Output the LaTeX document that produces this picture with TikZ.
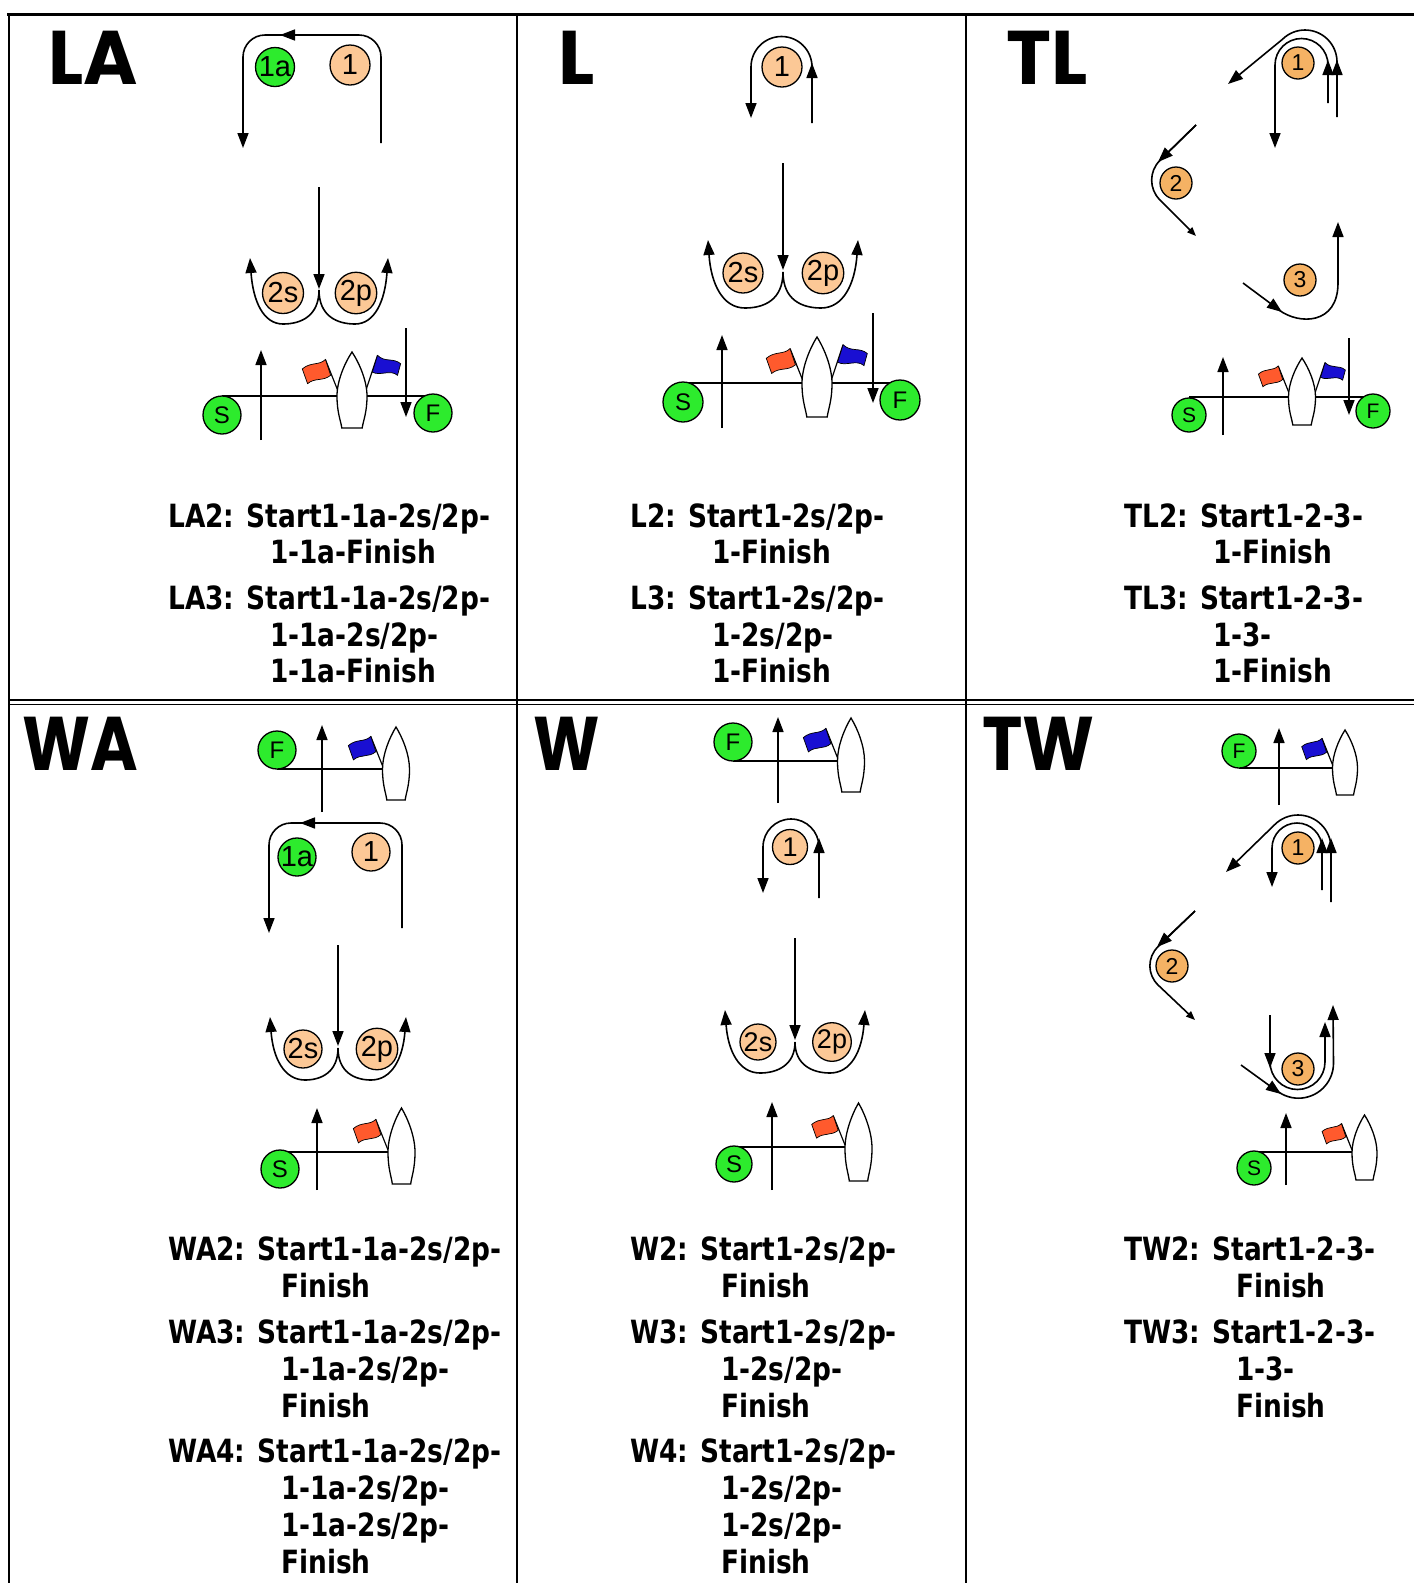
\documentclass[tikz,border=0pt]{standalone}
\usepackage{fontspec}
\setmainfont{Liberation Sans}
\newfontfamily\txtf{DejaVu Sans}[FakeStretch=0.825]
\newfontfamily\bigf{Poppins}
\newfontfamily\bigla{Poppins}[FakeStretch=0.97]
\newfontfamily\bigwa{Poppins}[FakeStretch=0.85]
\newfontfamily\bigw{Poppins}[FakeStretch=0.83]
\newfontfamily\bigtw{Poppins}[FakeStretch=0.9]
\newfontfamily\mkf{Liberation Sans}
\usetikzlibrary{arrows.meta}
\definecolor{greenc}{RGB}{45,235,45}
\definecolor{peachc}{RGB}{252,200,150}
\definecolor{orangec}{RGB}{245,178,100}
\definecolor{redc}{RGB}{255,90,45}
\definecolor{bluec}{RGB}{25,15,210}
\tikzset{
 ln/.style={line width=1.6pt},
 arr/.style={ln,-{Triangle[length=15pt,width=11pt]}},
 sarr/.style={ln,-{Triangle[length=9pt,width=7pt]}},
 mkcirc/.style={circle,draw,line width=1.3pt,inner sep=0pt},
 pch/.style={mkcirc,fill=peachc,minimum size=40pt,font=\mkf\fontsize{29}{29}\selectfont},
 grn/.style={mkcirc,fill=greenc,minimum size=39pt,font=\mkf\fontsize{29}{29}\selectfont},
 sf/.style={mkcirc,fill=greenc,minimum size=38pt,font=\mkf\fontsize{24}{24}\selectfont},
 ssf/.style={mkcirc,fill=greenc,minimum size=34pt,font=\mkf\fontsize{21}{21}\selectfont},
 org/.style={mkcirc,fill=orangec,minimum size=32pt,font=\mkf\fontsize{23}{23}\selectfont},
 txt/.style={anchor=base west,inner sep=0pt,font=\txtf\bfseries\fontsize{32}{32}\selectfont},
 big/.style={anchor=base west,inner sep=0pt,font=\bfseries\fontsize{76}{76}\selectfont},
 boatst/.style={draw,fill=white,line width=1.3pt},
 tbl/.style={line width=2pt},
}
% boat: cx, top, halfwidth, height
\newcommand\drawboat[4]{%
 \draw[boatst] (#1,#2) .. controls ({#1-0.5*#3},{#2+0.15*#4}) and ({#1-#3},{#2+0.38*#4}) .. ({#1-#3},{#2+0.58*#4})
  .. controls ({#1-#3},{#2+0.8*#4}) and ({#1-0.75*#3},{#2+0.9*#4}) .. ({#1-0.68*#3},{#2+#4})
  -- ({#1+0.68*#3},{#2+#4})
  .. controls ({#1+0.75*#3},{#2+0.9*#4}) and ({#1+#3},{#2+0.8*#4}) .. ({#1+#3},{#2+0.58*#4})
  .. controls ({#1+#3},{#2+0.38*#4}) and ({#1+0.5*#3},{#2+0.15*#4}) .. (#1,#2) -- cycle;}
% flag pointing left: base x, base y, scale, colour
\newcommand\lflag[4]{%
 \begin{scope}[shift={(#1,#2)},scale=#3]
  \draw[line width=1.2pt] (0,0) -- (-12,-30);
  \filldraw[fill=#4,draw=black,line width=0.7pt] (-12,-30) .. controls (-18,-24) and (-26,-28) .. (-34,-21) -- (-29,-7) .. controls (-22,-13) and (-14,-9) .. (-7,-15) -- cycle;
 \end{scope}}
% flag pointing right
\newcommand\rflag[4]{%
 \begin{scope}[shift={(#1,#2)},scale=#3]
  \draw[line width=1.2pt] (0,0) -- (11,-33);
  \filldraw[fill=#4,draw=black,line width=0.7pt] (11,-33) .. controls (18,-26) and (26,-31) .. (33,-25) -- (30,-14) .. controls (23,-20) and (14,-13) .. (6,-17) -- cycle;
 \end{scope}}
% double U: jx jy b by t ty
\newcommand\wshape[6]{%
 \draw[arr] (#1,#2) .. controls (#1,{#4-8}) and ({#1-0.5*#3},#4) .. ({#1-#3},#4) .. controls ({#1-#3-0.6*(#5-#3)},#4) and ({#1-#5+3},{#4-0.35*(#4-#6)}) .. ({#1-#5},#6);
 \draw[arr] (#1,#2) .. controls (#1,{#4-8}) and ({#1+0.5*#3},#4) .. ({#1+#3},#4) .. controls ({#1+#3+0.6*(#5-#3)},#4) and ({#1+#5-3},{#4-0.35*(#4-#6)}) .. ({#1+#5},#6);}
\begin{document}
\begin{tikzpicture}[x=1pt,y=-1pt]
\useasboundingbox (0,0) rectangle (1414,1583);
\fill[white] (0,0) rectangle (1414,1583);
% ---------- table ----------
\draw[line width=3pt] (7,14) -- (1414,14);
\draw[tbl] (9,13) -- (9,1583);
\draw[tbl] (517,14) -- (517,1583);
\draw[tbl] (966,14) -- (966,1583);
\draw[line width=1.6pt] (9,700) -- (1414,700);
\draw[line width=1.6pt] (9,704.5) -- (1414,704.5);

% ================= LA =================
\node[big,font=\bigla\bfseries\fontsize{76}{76}\selectfont] (tLA) at (48,84) {LA};
\draw[arr,rounded corners=22] (381,143) -- (381,35) -- (243,35) -- (243,148);
\draw[arr] (300,35) -- (280,35);
\draw[arr] (319,187) -- (319,289);
\wshape{319}{290}{36}{324}{69}{258}
\draw[ln] (222,396) -- (337,396);
\draw[ln] (367,396) -- (433,396);
\draw[arr] (261,440) -- (261,350);
\draw[arr] (406,328) -- (406,417);
\lflag{338}{391}{1.05}{redc}
\rflag{366}{390}{1.05}{bluec}
\drawboat{352}{352}{15}{76}
\node[grn] (la1a) at (275,67) {1a};
\node[pch] (la1) at (350,65) {1};
\node[pch,minimum size=41pt] (la2s) at (283,293) {2s};
\node[pch,minimum size=41pt] (la2p) at (356,293) {2p};
\node[sf] (laS) at (222,415) {S};
\node[sf] (laF) at (433,413) {F};
\node[txt] (la2a) at (168,527) {LA2: Start1-1a-2s/2p-};
\node[txt] (la2b) at (270,563) {1-1a-Finish};
\node[txt] (la3a) at (168,609) {LA3: Start1-1a-2s/2p-};
\node[txt] (la3b) at (270,646) {1-1a-2s/2p-};
\node[txt] (la3c) at (270,682) {1-1a-Finish};

% ================= L =================
\node[big,font=\bigf\bfseries\fontsize{76}{76}\selectfont] (tL) at (558,84) {L};
\draw[arr] (812,123) -- (812,67) arc[start angle=0,end angle=-180,radius=30.5] -- (751,118);
\draw[arr] (812,82) -- (812,63);
\draw[arr] (783,163) -- (783,270);
\wshape{783}{272}{38}{308}{75}{240}
\draw[ln] (683,383) -- (802,383);
\draw[ln] (832,383) -- (900,383);
\draw[arr] (722,428) -- (722,335);
\draw[arr] (873,313) -- (873,403);
\lflag{803}{381}{1.08}{redc}
\rflag{831}{381}{1.1}{bluec}
\drawboat{817}{337}{15}{80}
\node[pch] (l1) at (782,67) {1};
\node[pch] (l2s) at (743,273) {2s};
\node[pch] (l2p) at (823,273) {2p};
\node[sf,minimum size=40pt] (lS) at (683,402) {S};
\node[sf,minimum size=40pt] (lF) at (900,400) {F};
\node[txt] (l2a) at (630,527) {L2: Start1-2s/2p-};
\node[txt] (l2b) at (712,563) {1-Finish};
\node[txt] (l3a) at (630,609) {L3: Start1-2s/2p-};
\node[txt] (l3b) at (712,646) {1-2s/2p-};
\node[txt] (l3c) at (712,682) {1-Finish};

% ================= TL =================
\node[big,font=\bigf\bfseries\fontsize{76}{76}\selectfont] (tTL) at (1006,84) {TL};
\draw[arr] (1337,117) -- (1337,62) arc[start angle=0,end angle=-135,radius=32] -- (1228,84);
\draw[arr] (1328,103) -- (1328,65) arc[start angle=0,end angle=-180,radius=26.5] -- (1275,148);
\draw[arr] (1328,80) -- (1328,60);
\draw[arr] (1337,80) -- (1337,60);
\draw[arr] (1196,125) -- (1158,162);
\draw[sarr,rounded corners=28] (1196,125) -- (1140,180) -- (1196,236);
\draw[arr] (1243,283) -- (1282,312);
\draw[arr] (1279,310) .. controls (1299,325) and (1338,325) .. (1338,283) -- (1338,222);
\draw[ln] (1189,397) -- (1288,397);
\draw[ln] (1316,397) -- (1373,397);
\draw[arr] (1223,435) -- (1223,357);
\draw[arr] (1349,338) -- (1349,415);
\lflag{1289}{393}{0.9}{redc}
\rflag{1315}{393}{0.92}{bluec}
\drawboat{1302}{358}{13.5}{67}
\node[org] (tl1) at (1298,63) {1};
\node[org] (tl2) at (1176,183) {2};
\node[org] (tl3) at (1300,280) {3};
\node[ssf] (tlS) at (1189,415) {S};
\node[ssf] (tlF) at (1373,411) {F};
\node[txt] (tl2a) at (1124,527) {TL2: Start1-2-3-};
\node[txt] (tl2b) at (1213,563) {1-Finish};
\node[txt] (tl3a) at (1124,609) {TL3: Start1-2-3-};
\node[txt] (tl3b) at (1213,646) {1-3-};
\node[txt] (tl3c) at (1213,682) {1-Finish};

% ================= WA =================
\node[big,font=\bigwa\bfseries\fontsize{76}{76}\selectfont] (tWA) at (22,770) {WA};
\draw[ln] (277,769) -- (383,769);
\draw[arr] (322,812) -- (322,725);
\lflag{383}{767}{1.02}{bluec}
\drawboat{396}{727}{13.5}{73}
\draw[arr,rounded corners=22] (402,928) -- (402,823) -- (269,823) -- (269,933);
\draw[arr] (318,823) -- (300,823);
\draw[arr] (338,945) -- (338,1046);
\wshape{338}{1048}{33}{1080}{68}{1017}
\draw[ln] (280,1152) -- (388,1152);
\draw[arr] (317,1190) -- (317,1108);
\lflag{388}{1150}{1.02}{redc}
\drawboat{401.5}{1108}{13.5}{76}
\node[sf] (waF) at (277,750) {F};
\node[grn,minimum size=38pt] (wa1a) at (297,857) {1a};
\node[pch,minimum size=38pt] (wa1) at (371,852) {1};
\node[pch,minimum size=38pt] (wa2s) at (303,1049) {2s};
\node[pch,minimum size=38pt] (wa2p) at (377,1049) {2p};
\node[sf] (waS) at (280,1169) {S};
\node[txt] (wa2a) at (168,1260) {WA2: Start1-1a-2s/2p-};
\node[txt] (wa2b) at (281,1297) {Finish};
\node[txt] (wa3a) at (168,1343) {WA3: Start1-1a-2s/2p-};
\node[txt] (wa3b) at (281,1380) {1-1a-2s/2p-};
\node[txt] (wa3c) at (281,1417) {Finish};
\node[txt] (wa4a) at (168,1462) {WA4: Start1-1a-2s/2p-};
\node[txt] (wa4b) at (281,1499) {1-1a-2s/2p-};
\node[txt] (wa4c) at (281,1536) {1-1a-2s/2p-};
\node[txt] (wa4d) at (281,1573) {Finish};

% ================= W =================
\node[big,font=\bigw\bfseries\fontsize{76}{76}\selectfont] (tW) at (533,770) {W};
\draw[ln] (733,761) -- (838,761);
\draw[arr] (778,803) -- (778,717);
\lflag{838}{759}{1.02}{bluec}
\drawboat{851}{718}{13.5}{74}
\draw[arr] (819,898) -- (819,847) arc[start angle=0,end angle=-180,radius=28] -- (763,893);
\draw[arr] (819,858) -- (819,838);
\draw[arr] (795,938) -- (795,1040);
\wshape{795}{1042}{35}{1073}{70}{1010}
\draw[ln] (734,1147) -- (845,1147);
\draw[arr] (772,1190) -- (772,1102);
\lflag{845}{1145}{0.98}{redc}
\drawboat{858.5}{1103}{13.5}{78}
\node[sf] (wF) at (733,742) {F};
\node[pch,minimum size=35pt,font=\mkf\fontsize{27}{27}\selectfont] (w1) at (790,847) {1};
\node[pch,minimum size=36pt,font=\mkf\fontsize{27}{27}\selectfont] (w2s) at (758,1042) {2s};
\node[pch,minimum size=36pt,font=\mkf\fontsize{27}{27}\selectfont] (w2p) at (832,1042) {2p};
\node[sf,minimum size=36pt] (wS) at (734,1164) {S};
\node[txt] (w2a) at (630,1260) {W2: Start1-2s/2p-};
\node[txt] (w2b) at (721,1297) {Finish};
\node[txt] (w3a) at (630,1343) {W3: Start1-2s/2p-};
\node[txt] (w3b) at (721,1380) {1-2s/2p-};
\node[txt] (w3c) at (721,1417) {Finish};
\node[txt] (w4a) at (630,1462) {W4: Start1-2s/2p-};
\node[txt] (w4b) at (721,1499) {1-2s/2p-};
\node[txt] (w4c) at (721,1536) {1-2s/2p-};
\node[txt] (w4d) at (721,1573) {Finish};

% ================= TW =================
\node[big,font=\bigtw\bfseries\fontsize{76}{76}\selectfont] (tTW) at (982,770) {TW};
\draw[ln] (1239,768) -- (1333,768);
\draw[arr] (1279,805) -- (1279,728);
\lflag{1333}{766}{0.92}{bluec}
\drawboat{1345}{730}{12.5}{65}
\draw[arr] (1331,902) -- (1331,848) arc[start angle=0,end angle=-135,radius=33] -- (1226,872);
\draw[arr] (1322,890) -- (1322,848) arc[start angle=0,end angle=-180,radius=25] -- (1272,887);
\draw[arr] (1322,858) -- (1322,838);
\draw[arr] (1331,858) -- (1331,838);
\draw[arr] (1195,911) -- (1157,947);
\draw[sarr,rounded corners=28] (1195,911) -- (1138,966) -- (1195,1020);
\draw[arr] (1270,1015) -- (1270,1068);
\draw[arr] (1270,1062) arc[start angle=180,end angle=0,radius=27.5] -- (1325,1022);
\draw[arr] (1241,1065) -- (1281,1094);
\draw[arr] (1276,1090) arc[start angle=130,end angle=0,radius=35] -- (1333,1005);
\draw[ln] (1254,1152) -- (1352,1152);
\draw[arr] (1286,1185) -- (1286,1113);
\lflag{1352}{1150}{0.88}{redc}
\drawboat{1364.5}{1115}{12.5}{65}
\node[ssf] (twF) at (1239,751) {F};
\node[org] (tw1) at (1298,848) {1};
\node[org] (tw2) at (1172,966) {2};
\node[org] (tw3) at (1298,1069) {3};
\node[ssf] (twS) at (1254,1168) {S};
\node[txt] (tw2a) at (1124,1260) {TW2: Start1-2-3-};
\node[txt] (tw2b) at (1236,1297) {Finish};
\node[txt] (tw3a) at (1124,1343) {TW3: Start1-2-3-};
\node[txt] (tw3b) at (1236,1380) {1-3-};
\node[txt] (tw3c) at (1236,1417) {Finish};
\end{tikzpicture}
\end{document}
